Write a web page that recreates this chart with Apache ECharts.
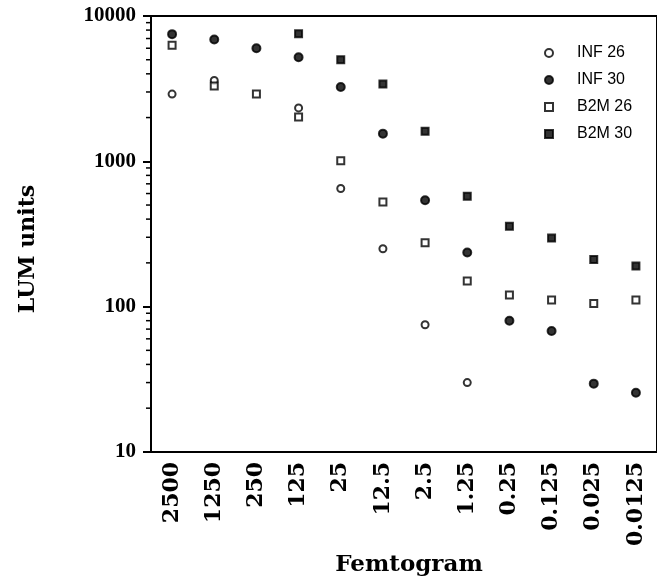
<!DOCTYPE html>
<html>
<head>
<meta charset="utf-8">
<script src="https://cdn.jsdelivr.net/npm/echarts@6/dist/echarts.min.js"></script>
<style>
  html, body { margin: 0; padding: 0; background: #fff; }
  #chart { width: 657px; height: 582px; }
</style>
</head>
<body>
<div id="chart"></div>
<script>
const categories = ['2500', '1250', '250', '125', '25', '12.5', '2.5', '1.25', '0.25', '0.125', '0.025', '0.0125'];
const inf26 = [2900, 3600, '-', 2330, 650, 250, 75, 30, '-', '-', '-', '-'];
const inf30 = [7500, 6900, 6000, 5200, 3250, 1550, 540, 236, 80, 68, 29.5, 25.5];
const b2m26 = [6300, 3300, 2900, 2020, 1010, 525, 275, 150, 120, 111, 105, 111];
const b2m30 = ['-', '-', '-', 7550, 5000, 3400, 1610, 575, 357, 296, 211, 190];
const seriesNames = ['INF 26', 'INF 30', 'B2M 26', 'B2M 30'];
const yTickLabels = ['10', '100', '1000', '10000'];
const minorTicks = [20, 30, 40, 50, 60, 70, 80, 90, 200, 300, 400, 500, 600, 700, 800, 900, 2000, 3000, 4000, 5000, 6000, 7000, 8000, 9000];

const chart = echarts.init(document.getElementById('chart'), null, { renderer: 'canvas' });

const openStyle = { color: '#fff', borderColor: '#000', borderWidth: 2 };
const filledStyle = { color: '#000', borderColor: '#000', borderWidth: 2 };

chart.setOption({
  animation: false,
  backgroundColor: '#fff',
  grid: {
    left: 151, top: 16, width: 511, height: 467,
    show: true, borderColor: '#000', borderWidth: 2, backgroundColor: 'transparent'
  },
  legend: {
    data: seriesNames,
    orient: 'vertical',
    left: 539, top: 40,
    itemWidth: 8, itemHeight: 8, itemGap: 11,
    textStyle: { fontFamily: 'Liberation Sans', fontSize: 16, color: '#000', padding: [0, 0, 0, 19], lineHeight: 16 },
    selectedMode: false
  },
  xAxis: {
    type: 'category',
    data: categories,
    boundaryGap: true,
    name: 'Femtogram',
    nameLocation: 'middle',
    nameGap: 80,
    nameTextStyle: { fontFamily: 'DejaVu Serif', fontWeight: 'bold', fontSize: 23, color: '#000', padding: [0, 0, 0, 10] },
    axisLine: { lineStyle: { color: '#000', width: 2 } },
    axisTick: { alignWithLabel: true, length: 9, lineStyle: { color: '#000', width: 2 } },
    axisLabel: { rotate: 90, interval: 0, margin: 10, fontFamily: 'DejaVu Serif', fontWeight: 'bold', fontSize: 22, color: '#000' },
    splitLine: { show: false }
  },
  yAxis: {
    type: 'log',
    logBase: 10,
    min: 10, max: 10000,
    name: 'LUM units',
    nameLocation: 'middle',
    nameGap: 112,
    nameTextStyle: { fontFamily: 'DejaVu Serif', fontWeight: 'bold', fontSize: 22, color: '#000', padding: [0, 30, 0, 0] },
    axisLine: { show: true, lineStyle: { color: '#000', width: 2 } },
    axisTick: { show: true, length: 8, lineStyle: { color: '#000', width: 2 } },
    axisLabel: {
      margin: 15, fontFamily: 'Liberation Serif', fontWeight: 'bold', fontSize: 21, color: '#000',
      formatter: function (v) {
        const s = String(Math.round(v));
        return yTickLabels.indexOf(s) >= 0 ? s : '';
      }
    },
    splitLine: { show: false }
  },
  series: [
    { name: 'INF 26', type: 'scatter', symbol: 'circle', symbolSize: 7, data: inf26, itemStyle: openStyle, z: 3 },
    { name: 'INF 30', type: 'scatter', symbol: 'circle', symbolSize: 8, data: inf30, itemStyle: filledStyle, z: 2 },
    { name: 'B2M 26', type: 'scatter', symbol: 'rect', symbolSize: 7, data: b2m26, itemStyle: openStyle, z: 3 },
    { name: 'B2M 30', type: 'scatter', symbol: 'rect', symbolSize: 7, data: b2m30, itemStyle: filledStyle, z: 2 },
    {
      type: 'custom',
      silent: true,
      clip: false,
      data: minorTicks.map(function (v) { return [0, v]; }),
      encode: { x: 0, y: 1 },
      renderItem: function (params, api) {
        const p = api.coord([0, api.value(1)]);
        const x0 = params.coordSys.x;
        return {
          type: 'line',
          shape: { x1: x0 - 5, y1: p[1], x2: x0, y2: p[1] },
          style: { stroke: '#000', lineWidth: 1.5 }
        };
      },
      z: 5
    }
  ]
});
</script>
</body>
</html>
